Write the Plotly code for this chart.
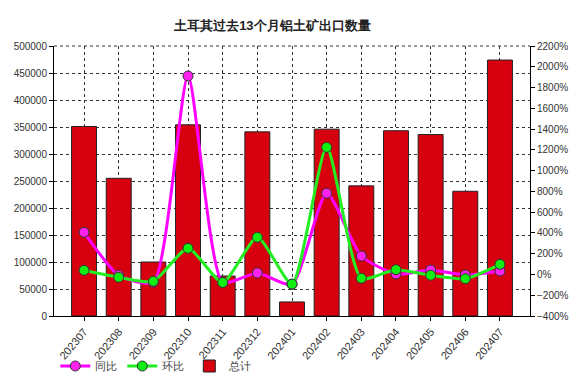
import plotly.graph_objects as go

months = ["202307","202308","202309","202310","202311","202312","202401",
          "202402","202403","202404","202405","202406","202407"]
total = [351000, 255000, 100000, 354000, 74000, 341000, 26000,
         346000, 241000, 343000, 336000, 231000, 474000]
yoy = [406, -8, -75, 1911, -75, 14, -95, 782, 178, 4, 43, -5, 33]
mom = [40, -27, -66, 252, -78, 358, -92, 1224, -37, 46, -8, -41, 98]

font_family = "Liberation Sans, Arial, sans-serif"

fig = go.Figure()
fig.add_trace(go.Scatter(
    x=months, y=yoy, name="同比", yaxis="y2", mode="lines+markers",
    line=dict(color="#FF00FF", width=3, shape="spline", smoothing=0.6),
    marker=dict(size=10, color="#FF22EE", line=dict(color="#333333", width=1)),
))
fig.add_trace(go.Scatter(
    x=months, y=mom, name="环比", yaxis="y2", mode="lines+markers",
    line=dict(color="#22EE22", width=3, shape="spline", smoothing=0.6),
    marker=dict(size=10, color="#11EE11", line=dict(color="#333333", width=1)),
))
fig.add_trace(go.Bar(
    x=months, y=total, name="总计",
    marker=dict(color="#D7000F", line=dict(color="#222222", width=1)),
))

fig.update_layout(
    width=582, height=385,
    margin=dict(l=54, r=52, t=46, b=69, autoexpand=False),
    paper_bgcolor="white", plot_bgcolor="white",
    font=dict(family=font_family, size=10, color="#333333"),
    title=dict(text="<b>土耳其过去13个月铝土矿出口数量</b>", x=0.468, xref="container",
               y=1 - 25/385, yref="container", xanchor="center", yanchor="middle",
               font=dict(size=13, color="#222222")),
    bargap=0.28,
    showlegend=True,
    legend=dict(orientation="h", x=0.095, xref="container", y=1 - 366/385, yref="container",
                xanchor="left", yanchor="middle", traceorder="normal",
                bgcolor="rgba(0,0,0,0)",
                font=dict(size=11, color="#444444"), itemwidth=30),
    xaxis=dict(
        type="category", tickangle=-50, showline=True, linecolor="black", linewidth=1,
        ticks="outside", ticklen=4, tickcolor="black", automargin=False,
        showgrid=True, gridcolor="#333333", griddash="dot", gridwidth=1,
        mirror=False, tickfont=dict(size=11, color="#333333"),
    ),
    yaxis=dict(
        range=[0, 500000], dtick=50000, showline=True, linecolor="black", linewidth=1,
        ticks="outside", ticklen=4, tickcolor="black", tickformat="d", automargin=False,
        showgrid=True, gridcolor="#333333", griddash="dot", gridwidth=1, zeroline=False,
    ),
    yaxis2=dict(
        range=[-400, 2200], dtick=200, overlaying="y", side="right", ticksuffix="%",
        showline=True, linecolor="black", linewidth=1, ticks="outside", ticklen=4,
        tickcolor="black", showgrid=False, zeroline=False, automargin=False,
    ),
)

fig.add_shape(type="line", xref="paper", yref="paper", x0=0, x1=1, y0=1, y1=1,
              line=dict(color="#333333", width=1, dash="dot"))

fig.write_html("out.html", config={"displayModeBar": False},
               post_script="document.body.style.margin='0';")
